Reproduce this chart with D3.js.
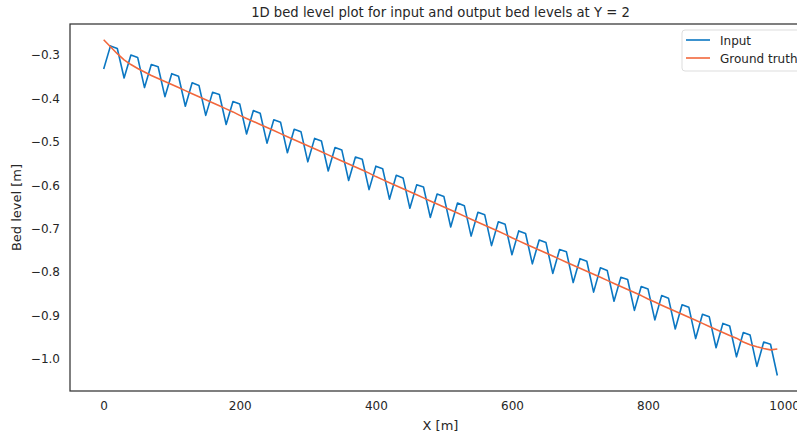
<!DOCTYPE html>
<html lang="en">
<head>
  <meta charset="utf-8">
  <title>1D bed level plot</title>
  <script src="https://d3js.org/d3.v7.min.js"></script>
  <style>
    html, body { margin:0; padding:0; background:#fff; overflow:hidden; }
    svg text { font-family: "DejaVu Sans", sans-serif; fill:#262626; }
  </style>
</head>
<body>
  <svg id="chart" width="797" height="436"></svg>
  <script>
    // ─── Data ──────────────────────────────────────────────────────────────
    const xValues = d3.range(0, 1000, 10); // 0, 10, ..., 990

    const inputLevels = [
      -0.332, -0.279, -0.285, -0.353, -0.300, -0.306, -0.375, -0.322, -0.327, -0.396,
      -0.343, -0.349, -0.418, -0.364, -0.370, -0.439, -0.386, -0.391, -0.460, -0.407,
      -0.413, -0.482, -0.428, -0.434, -0.503, -0.449, -0.455, -0.525, -0.471, -0.477,
      -0.546, -0.492, -0.498, -0.567, -0.513, -0.519, -0.589, -0.535, -0.540, -0.610,
      -0.556, -0.562, -0.632, -0.577, -0.583, -0.653, -0.599, -0.604, -0.674, -0.620,
      -0.626, -0.696, -0.641, -0.647, -0.717, -0.662, -0.668, -0.739, -0.684, -0.690,
      -0.760, -0.705, -0.711, -0.781, -0.726, -0.732, -0.803, -0.748, -0.753, -0.824,
      -0.769, -0.775, -0.846, -0.790, -0.796, -0.867, -0.812, -0.817, -0.888, -0.833,
      -0.839, -0.910, -0.854, -0.860, -0.931, -0.875, -0.881, -0.953, -0.897, -0.903,
      -0.974, -0.918, -0.924, -0.995, -0.939, -0.945, -1.017, -0.961, -0.966, -1.038
    ];

    const groundTruth = [
      -0.265, -0.281, -0.297, -0.311, -0.322, -0.331, -0.339, -0.347, -0.354, -0.361,
      -0.368, -0.375, -0.382, -0.389, -0.396, -0.403, -0.410, -0.417, -0.424, -0.431,
      -0.439, -0.446, -0.453, -0.460, -0.467, -0.474, -0.481, -0.488, -0.495, -0.502,
      -0.509, -0.516, -0.523, -0.530, -0.537, -0.544, -0.551, -0.558, -0.565, -0.572,
      -0.580, -0.587, -0.594, -0.601, -0.608, -0.615, -0.622, -0.629, -0.636, -0.643,
      -0.650, -0.657, -0.664, -0.671, -0.678, -0.685, -0.692, -0.699, -0.706, -0.713,
      -0.721, -0.728, -0.735, -0.742, -0.749, -0.756, -0.763, -0.770, -0.777, -0.784,
      -0.791, -0.798, -0.805, -0.812, -0.819, -0.826, -0.833, -0.840, -0.847, -0.854,
      -0.862, -0.869, -0.876, -0.883, -0.890, -0.897, -0.904, -0.911, -0.918, -0.925,
      -0.932, -0.939, -0.946, -0.952, -0.961, -0.967, -0.972, -0.976, -0.979, -0.977
    ];

    const xTicks = [0, 200, 400, 600, 800, 1000];
    const yTicks = [-0.3, -0.4, -0.5, -0.6, -0.7, -0.8, -0.9, -1.0];
    const seriesNames = ["Input", "Ground truth"];
    const seriesColors = ["#0b77c2", "#f2673c"];
    // ───────────────────────────────────────────────────────────────────────

    const svg = d3.select("#chart");
    const margin = { top: 24, left: 70, bottom: 45 };
    const plotRight = 811; // right spine falls just outside the window
    const plotBottom = 436 - margin.bottom;

    const x = d3.scaleLinear().domain([-49.5, 1039.5]).range([margin.left, plotRight]);
    const y = d3.scaleLinear().domain([-1.0737, -0.2286]).range([plotBottom, margin.top]);

    // Axes (no tick marks, seaborn "white" style)
    svg.append("g")
      .attr("transform", `translate(0,${plotBottom})`)
      .call(d3.axisBottom(x).tickValues(xTicks).tickSize(0).tickPadding(10).tickFormat(d3.format("d")))
      .call(g => g.select(".domain").remove())
      .selectAll("text").style("font-size", "12px").attr("fill", "#262626");

    svg.append("g")
      .attr("transform", `translate(${margin.left},0)`)
      .call(d3.axisLeft(y).tickValues(yTicks).tickSize(0).tickPadding(10).tickFormat(d3.format(".1f")))
      .call(g => g.select(".domain").remove())
      .selectAll("text").style("font-size", "12px").attr("fill", "#262626");

    // Lines
    const line = d3.line().x((d, i) => x(xValues[i])).y(d => y(d));
    [inputLevels, groundTruth].forEach((vals, i) => {
      svg.append("path")
        .datum(vals)
        .attr("d", line)
        .attr("fill", "none")
        .attr("stroke", seriesColors[i])
        .attr("stroke-width", 1.6)
        .attr("stroke-linejoin", "round");
    });

    // Frame
    svg.append("rect")
      .attr("x", margin.left).attr("y", margin.top)
      .attr("width", plotRight - margin.left).attr("height", plotBottom - margin.top)
      .attr("fill", "none").attr("stroke", "#333").attr("stroke-width", 1.25);

    // Title + labels
    svg.append("text")
      .attr("x", (margin.left + plotRight) / 2).attr("y", 17)
      .attr("text-anchor", "middle").style("font-size", "13.2px")
      .text("1D bed level plot for input and output bed levels at Y = 2");

    svg.append("text")
      .attr("x", (margin.left + plotRight) / 2).attr("y", 430)
      .attr("text-anchor", "middle").style("font-size", "13px")
      .text("X [m]");

    svg.append("text")
      .attr("transform", `translate(21,${(margin.top + plotBottom) / 2}) rotate(-90)`)
      .attr("text-anchor", "middle").style("font-size", "13px")
      .text("Bed level [m]");

    // Legend
    const legend = svg.append("g").attr("transform", "translate(682,30)");
    legend.append("rect")
      .attr("width", 130).attr("height", 41).attr("rx", 3)
      .attr("fill", "#fff").attr("fill-opacity", 0.8)
      .attr("stroke", "#ddd");
    seriesNames.forEach((name, i) => {
      const ly = 10 + i * 18;
      legend.append("line")
        .attr("x1", 4).attr("x2", 28).attr("y1", ly).attr("y2", ly)
        .attr("stroke", seriesColors[i]).attr("stroke-width", 1.6);
      legend.append("text")
        .attr("x", 38).attr("y", ly + 4.5)
        .style("font-size", "12px")
        .text(name);
    });
  </script>
</body>
</html>
